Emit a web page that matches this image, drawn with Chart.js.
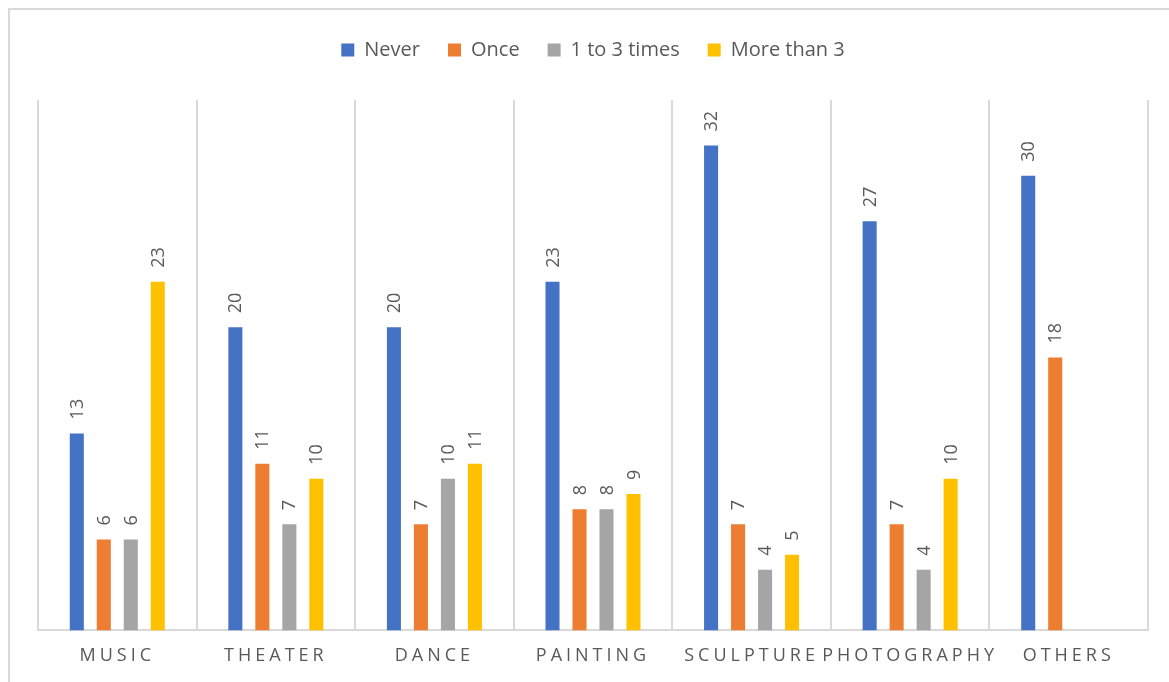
<!DOCTYPE html>
<html>
<head>
<meta charset="utf-8">
<script src="https://cdn.jsdelivr.net/npm/chart.js@4.4.1/dist/chart.umd.min.js"></script>
<style>
  html, body { margin: 0; padding: 0; background: #fff; }
  #wrap { width: 1169px; height: 682px; position: relative; }
</style>
</head>
<body>
<div id="wrap"><canvas id="chart"></canvas></div>
<script>
// categories and series
const categories = ["MUSIC", "THEATER", "DANCE", "PAINTING", "SCULPTURE", "PHOTOGRAPHY", "OTHERS"];
const never = [13, 20, 20, 23, 32, 27, 30];
const once = [6, 11, 7, 8, 7, 7, 18];
const oneToThree = [6, 7, 10, 8, 4, 4, null];
const moreThan3 = [23, 10, 11, 9, 5, 10, null];

const textGray = "#595959";
const lineGray = "#d9d9d9";
const fontFam = "'Open Sans', 'Noto Sans', sans-serif";

// outer frame + white background, and extra room under the legend
const framePlugin = {
  id: "frame",
  beforeInit(chart) {
    const fit = chart.legend.fit;
    chart.legend.fit = function () {
      fit.call(this);
      this.height += 30;
    };
  },
  beforeDraw(chart) {
    const ctx = chart.ctx;
    ctx.save();
    ctx.fillStyle = "#fff";
    ctx.fillRect(0, 0, chart.width, chart.height);
    ctx.strokeStyle = lineGray;
    ctx.lineWidth = 2;
    ctx.strokeRect(9, 9, chart.width + 20, chart.height + 20);
    ctx.restore();
  }
};

// rotated value labels above bars, then letter spacing for x tick labels (drawn at z=1)
const valueLabels = {
  id: "valueLabels",
  afterDatasetsDraw(chart) {
    const ctx = chart.ctx;
    ctx.save();
    ctx.font = "18px " + fontFam;
    ctx.fillStyle = textGray;
    ctx.textAlign = "left";
    ctx.textBaseline = "middle";
    chart.data.datasets.forEach((ds, i) => {
      const meta = chart.getDatasetMeta(i);
      meta.data.forEach((bar, j) => {
        const v = ds.data[j];
        if (v == null) return;
        ctx.save();
        ctx.translate(bar.x + 1, bar.y - 14);
        ctx.rotate(-Math.PI / 2);
        ctx.fillText(String(v), 0, 0);
        ctx.restore();
      });
    });
    ctx.restore();
    ctx.letterSpacing = "4px";
  },
  afterDraw(chart) {
    chart.ctx.letterSpacing = "0px";
  }
};

new Chart(document.getElementById("chart"), {
  type: "bar",
  data: {
    labels: categories,
    datasets: [
      { label: "Never", data: never, backgroundColor: "#4472C4" },
      { label: "Once", data: once, backgroundColor: "#ED7D31" },
      { label: "1 to 3 times", data: oneToThree, backgroundColor: "#A5A5A5" },
      { label: "More than 3", data: moreThan3, backgroundColor: "#FFC000" }
    ]
  },
  options: {
    responsive: true,
    maintainAspectRatio: false,
    animation: false,
    categoryPercentage: 0.681,
    barPercentage: 0.52,
    layout: { padding: { left: 38, right: 21, top: 12, bottom: 0 } },
    plugins: {
      legend: {
        position: "top",
        labels: {
          boxWidth: 13,
          boxHeight: 13,
          padding: 28,
          color: textGray,
          font: { size: 20, family: fontFam }
        }
      },
      tooltip: { enabled: false }
    },
    scales: {
      x: {
        grid: { color: lineGray, lineWidth: 2, drawTicks: false, offset: true },
        border: { color: lineGray, width: 2 },
        ticks: {
          z: 1,
          color: textGray,
          padding: 15,
          autoSkip: false,
          maxRotation: 0,
          font: { size: 18, family: fontFam }
        }
      },
      y: {
        display: false,
        min: 0,
        max: 35
      }
    }
  },
  plugins: [framePlugin, valueLabels]
});
</script>
</body>
</html>
